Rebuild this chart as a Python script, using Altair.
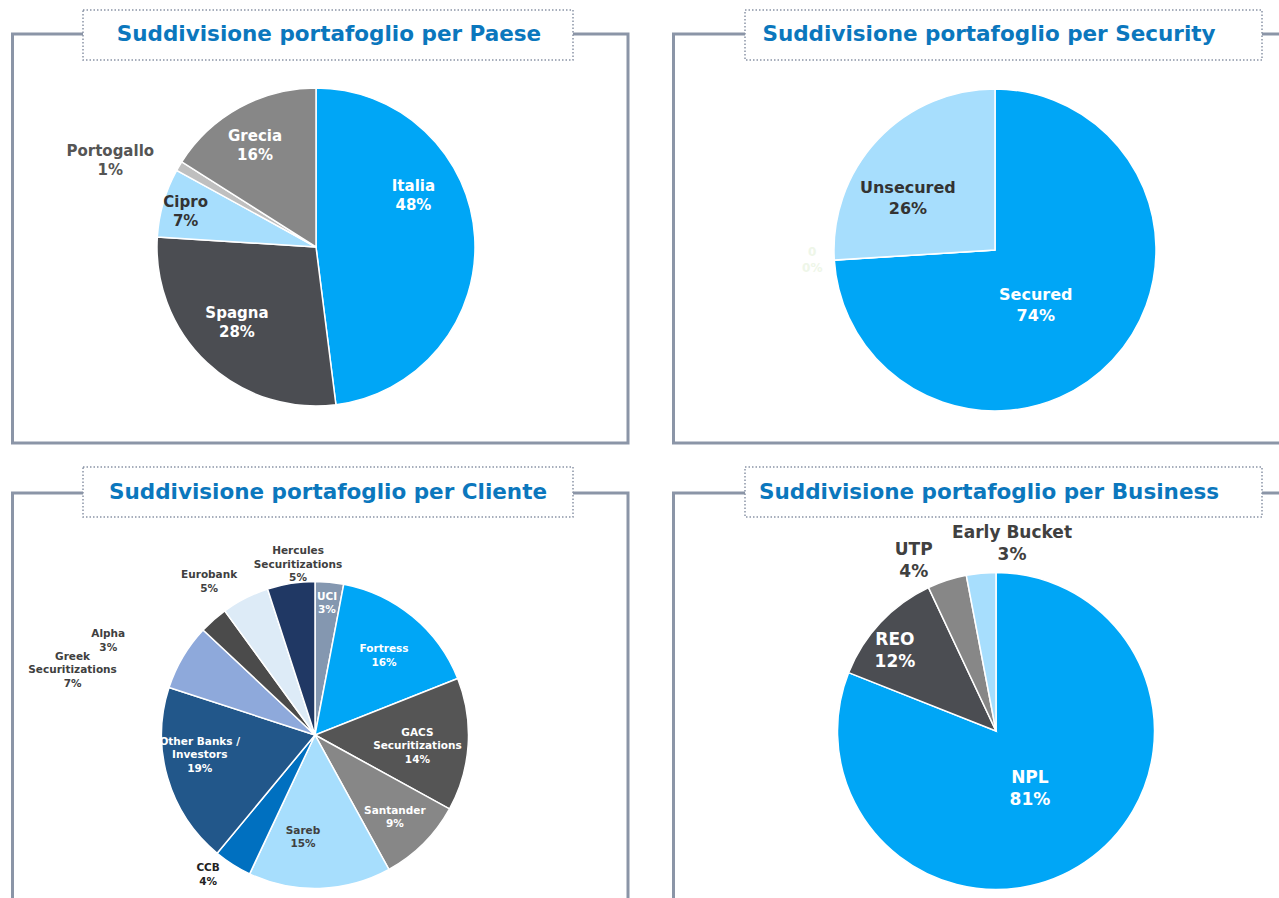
import math
import altair as alt
import pandas as pd

# ---------------- data ----------------
paese_names = ["Italia", "Spagna", "Cipro", "Portogallo", "Grecia"]
paese_values = [48, 28, 7, 1, 16]

security_names = ["Secured", "0", "Unsecured"]
security_values = [74, 0, 26]

cliente_names = ["UCI", "Fortress", "GACS Securitizations", "Santander", "Sareb", "CCB",
                 "Other Banks / Investors", "Greek Securitizations", "Alpha", "Eurobank",
                 "Hercules Securitizations"]
cliente_labels = ["UCI", "Fortress", "GACS\nSecuritizations", "Santander", "Sareb", "CCB",
                  "Other Banks /\nInvestors", "Greek\nSecuritizations", "Alpha", "Eurobank",
                  "Hercules\nSecuritizations"]
cliente_values = [3, 16, 14, 9, 15, 4, 19, 7, 3, 5, 5]

business_names = ["NPL", "REO", "UTP", "Early Bucket"]
business_values = [81, 12, 4, 3]

titles = ["Suddivisione portafoglio per Paese", "Suddivisione portafoglio per Security",
          "Suddivisione portafoglio per Cliente", "Suddivisione portafoglio per Business"]

# ---------------- styles ----------------
BLUE = "#00A6F6"
LIGHT = "#A7DEFD"
DARK = "#4B4D52"
GREY = "#878787"
TXT = "#404040"
FONT = "DejaVu Sans"
FRAME = "#8B95A7"

paese_colors = [BLUE, DARK, LIGHT, "#BFBFBF", GREY]
security_colors = [BLUE, "#FFFFFF", LIGHT]
cliente_colors = ["#8497B0", BLUE, "#555555", GREY, LIGHT, "#0070C0", "#22578A",
                  "#8EA9DB", "#4B4B4B", "#DDEBF7", "#203864"]
business_colors = [BLUE, DARK, GREY, LIGHT]

layers = []


def deco_rect(x, x2, y, y2, **kw):
    return alt.Chart().mark_rect(**kw).encode(
        x=alt.value(x), x2=alt.value(x2), y=alt.value(y), y2=alt.value(y2))


# panel frames
for (x, x2, y, y2) in [(12.5, 628, 34, 443), (673.5, 1310, 34, 443),
                       (12.5, 628, 493, 960), (673.5, 1310, 493, 960)]:
    layers.append(deco_rect(x, x2, y, y2, filled=False, stroke=FRAME, strokeWidth=3))

# title boxes + titles
for (x, x2, y, y2, tx, ty, t) in [(83, 573, 10, 60, 329, 35, titles[0]),
                                  (745, 1262, 10, 60, 989, 35, titles[1]),
                                  (83, 573, 467, 517, 328, 493, titles[2]),
                                  (745, 1262, 467, 517, 989, 493, titles[3])]:
    layers.append(deco_rect(x, x2, y, y2, fill="white", stroke="#8A94A6",
                            strokeWidth=1.5, strokeDash=[1.5, 2]))
    layers.append(alt.Chart().mark_text(font=FONT, fontSize=21.5, fontWeight="bold",
                                        color="#0B77BD", align="center", baseline="middle")
                  .encode(x=alt.value(tx), y=alt.value(ty), text=alt.value(t)))


def pie(names, values, colors, labels, cx, cy, r, fsize, lheight, label_style):
    df = pd.DataFrame({"name": names, "value": values, "label": labels,
                       "idx": list(range(len(names)))})
    total = float(sum(values))
    out = []
    out.append(alt.Chart(df).mark_arc(radius=r, stroke="white", strokeWidth=1.5).encode(
        theta=alt.Theta("value:Q", stack=True),
        order=alt.Order("idx:Q"),
        color=alt.Color("name:N", scale=alt.Scale(domain=names, range=colors), legend=None),
        x=alt.value(cx), y=alt.value(cy)))
    for n, lab in zip(names, labels):
        st = label_style[n]
        d, off, col = st[:3]
        fs = st[3] if len(st) > 3 else fsize
        lh = st[4] if len(st) > 4 else lheight
        nlines = lab.count("\n") + 2
        offr = math.radians(off)
        out.append(
            alt.Chart(df)
            .transform_window(cum="sum(value)", sort=[alt.SortField("idx")], frame=[None, 0])
            .transform_calculate(ang=f"(datum.cum - datum.value/2) / {total} * 2 * PI + {offr}",
                                 txt="datum.label + '\\n' + datum.value + '%'")
            .transform_filter(alt.datum.name == n)
            .mark_text(radius=d, font=FONT, fontSize=fs, fontWeight="bold", color=col,
                       lineBreak="\n", lineHeight=lh, align="center", baseline="middle",
                       dy=-(nlines - 1) * lh / 2)
            .encode(theta=alt.Theta("ang:Q", scale=None), text="txt:N",
                    x=alt.value(cx), y=alt.value(cy)))
    return out


W = "white"
layers += pie(paese_names, paese_values, paese_colors, paese_names, 316, 247, 159, 15, 19, {
    "Italia": (110, -24.1, W), "Spagna": (109, 3.3, W), "Cipro": (135, -1.1, "#333333"),
    "Portogallo": (223, -7.9, "#555555"), "Grecia": (118, -2.3, W)})

layers += pie(security_names, security_values, security_colors, security_names, 995, 250, 161, 16, 21, {
    "Secured": (69, 10.6, W), "0": (183, 0.5, "#EEF6E8", 12, 16),
    "Unsecured": (101, -12.8, "#333333")})

layers += pie(cliente_names, cliente_values, cliente_colors, cliente_labels, 315, 735, 153.5, 10.5, 13.5, {
    "UCI": (132, -0.2, W), "Fortress": (105, 1.5, W), "GACS Securitizations": (103, 2.6, W),
    "Santander": (115, 1.0, W), "Sareb": (103, 8.5, TXT), "CCB": (176, 5.0, "#222222"),
    "Other Banks / Investors": (117, 6.3, W), "Greek Securitizations": (251, -15.6, TXT),
    "Alpha": (227, -24.2, TXT), "Eurobank": (186, -7.7, TXT),
    "Hercules Securitizations": (171, 3.3, TXT)})

layers += pie(business_names, business_values, business_colors, business_names, 996, 731, 158.5, 17, 22, {
    "NPL": (67, 3.8, W), "REO": (129, -4.8, W), "UTP": (189, -7.8, TXT),
    "Early Bucket": (188, 10.3, TXT)})

chart = alt.layer(*layers).resolve_scale(color="independent", theta="independent").properties(
    width=1279, height=898, padding=0, autosize=alt.AutoSizeParams(type="none"),
    background="white"
).configure_view(stroke=None)

chart.save("out.html", embed_options={"renderer": "svg", "actions": False})
